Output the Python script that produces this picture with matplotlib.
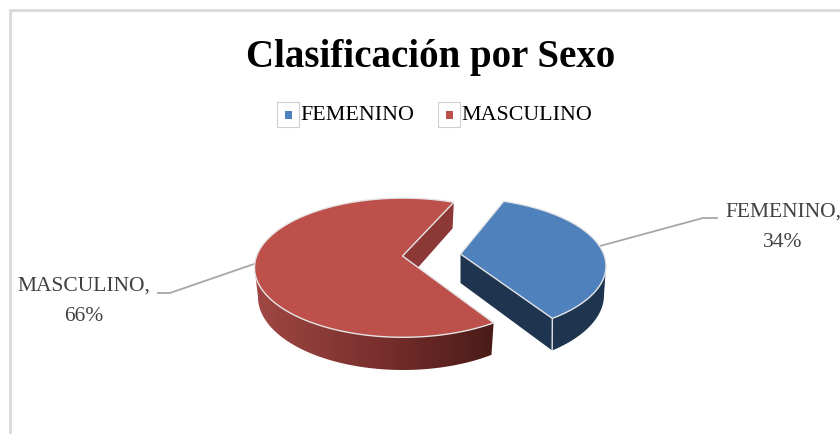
import numpy as np
import matplotlib
matplotlib.use('Agg')
import matplotlib.pyplot as plt
from matplotlib.patches import Polygon, Rectangle
from matplotlib.colors import LinearSegmentedColormap

plt.rcParams['font.family'] = ['Liberation Serif', 'DejaVu Serif']

title = 'Clasificación por Sexo'
categories = ['FEMENINO', 'MASCULINO']
values = [34, 66]
blue_top, blue_side = '#4F81BD', '#1F344F'
red_top, red_cut = '#BE504C', '#8C3836'
rim = '#E4E4E4'

fig = plt.figure(figsize=(8.4, 4.34), dpi=100)
ax = fig.add_axes([0, 0, 1, 1])
ax.set_xlim(0, 840)
ax.set_ylim(434, 0)
ax.axis('off')

# chart frame, right side runs off the picture
ax.plot([10, 10, 840], [434, 10, 10], color='#D9D9D9', lw=2, solid_joinstyle='miter')


def arc(cx, cy, rx, ry, t0, t1, n=120):
    t = np.radians(np.linspace(t0, t1, n))
    return np.column_stack([cx + rx * np.cos(t), cy - ry * np.sin(t)])


start = 70
span_fem = values[0] / sum(values) * 360
end_fem = start - span_fem
end_mas = end_fem - values[1] / sum(values) * 360

# red slice
top = (403, 267.7, 148.5, 69.6)
bot = (403, 297, 145, 73)
apex = np.array([402.5, 256])
p0 = arc(*top, start, start, 1)[0]
p1 = arc(*bot, start, start, 1)[0]
ax.add_patch(Polygon([apex, p0, p1, apex + [0, 29]], fc=red_cut, ec='none', zorder=2))

side = np.vstack([arc(*top, 180, 360 + end_fem), arc(*bot, 360 + end_fem, 180)])
clip = Polygon(side, fc='none', ec='none', zorder=3)
ax.add_patch(clip)
grad = LinearSegmentedColormap.from_list('side', ['#A04744', '#7A302D', '#4A1B18'])
im = ax.imshow(np.linspace(0, 1, 256).reshape(1, -1), cmap=grad, aspect='auto',
               extent=[side[:, 0].min(), side[:, 0].max(), 434, 0], zorder=3)
im.set_clip_path(clip)
ax.set_xlim(0, 840)
ax.set_ylim(434, 0)

face = np.vstack([[apex], arc(*top, end_fem, end_mas)])
ax.add_patch(Polygon(face, fc=red_top, ec=rim, lw=1, zorder=4))

# blue slice, pulled out of the pie and turned a little by the perspective
turn = 2
top_b = (458, 266, 148, 68)
bot_b = (461, 295, 143, 72)
apex_b = np.array([460.5, 254])
corner = arc(*top_b, end_fem + turn, end_fem + turn, 1)[0]
corner2 = arc(*bot_b, end_fem + turn, end_fem + turn, 1)[0]
ax.add_patch(Polygon([apex_b, corner, corner2, apex_b + [0, 29]], fc=blue_side, ec='none', zorder=2))
side_b = np.vstack([arc(*top_b, end_fem + turn, 0), arc(*bot_b, 0, end_fem + turn)])
ax.add_patch(Polygon(side_b, fc=blue_side, ec='none', zorder=3))
ax.plot([corner[0], corner2[0]], [corner[1], corner2[1]], color=rim, lw=1, zorder=4)
face_b = np.vstack([[apex_b], arc(*top_b, start + turn, end_fem + turn)])
ax.add_patch(Polygon(face_b, fc=blue_top, ec=rim, lw=1, zorder=4))

# title and legend
ax.text(431, 57, title, ha='center', va='center', fontsize=28, fontweight='bold', color='black')
for name, color, x in zip(categories, [blue_top, red_top], [277, 438]):
    ax.add_patch(Rectangle((x, 102), 22, 25, fc='white', ec='#CFCFCF', lw=0.8))
    ax.add_patch(Rectangle((x + 7.5, 110.5), 7, 8, fc=color, ec='none'))
    ax.text(x + 23, 115, name, ha='left', va='center', fontsize=15.8, color='black')

# data labels with leader lines
label_color = '#404040'
ax.plot([600, 703, 717], [246, 218, 218], color='#A6A6A6', lw=1.3, zorder=1)
ax.plot([158, 170, 254], [293, 293, 264], color='#A6A6A6', lw=1.3, zorder=1)
ax.text(783, 227, f'{categories[0]},\n{values[0]}%', ha='center', va='center', fontsize=15.5,
        color=label_color, linespacing=1.8)
ax.text(84, 301, f'{categories[1]},\n{values[1]}%', ha='center', va='center', fontsize=15.5,
        color=label_color, linespacing=1.8)

fig.savefig('out.png', dpi=100)
